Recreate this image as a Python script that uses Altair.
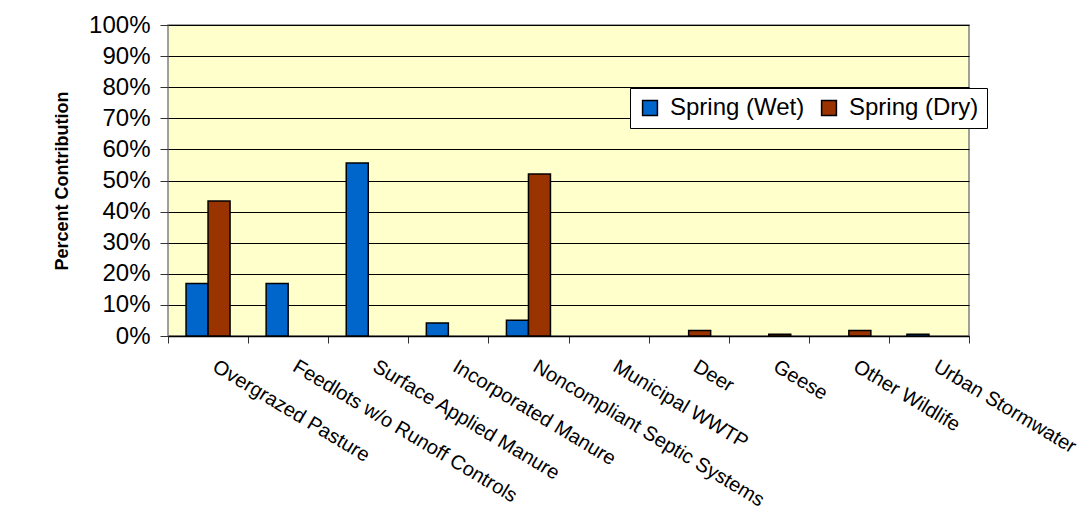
import altair as alt
import pandas as pd

categories = ["Overgrazed Pasture", "Feedlots w/o Runoff Controls", "Surface Applied Manure",
              "Incorporated Manure", "Noncompliant Septic Systems", "Municipal WWTP", "Deer",
              "Geese", "Other Wildlife", "Urban Stormwater"]
wet = [0.169, 0.169, 0.556, 0.042, 0.051, 0.0, 0.0, 0.0, 0.0, 0.006]
dry = [0.434, 0.0, 0.0, 0.0, 0.521, 0.0, 0.018, 0.006, 0.018, 0.0]
series = ["Spring (Wet)", "Spring (Dry)"]
colors = ["#0066CC", "#993300"]

rows = []
for c, w, d in zip(categories, wet, dry):
    rows.append({"Source": c, "Season": series[0], "Value": w})
    rows.append({"Source": c, "Season": series[1], "Value": d})
df = pd.DataFrame(rows)
df = df[df["Value"] > 0]

font = "Liberation Sans"

chart = alt.Chart(df).mark_bar(stroke="black", strokeWidth=1.5).encode(
    x=alt.X("Source:N", sort=categories,
            scale=alt.Scale(domain=categories, paddingInner=0, paddingOuter=0),
            axis=alt.Axis(title=None, labelAngle=31, labelAlign="left", labelBaseline="top",
                          labelFontSize=20, labelFont=font, labelColor="black",
                          labelPadding=13, labelOffset=11, tickBand="extent", tickSize=7,
                          tickColor="#333333", domainColor="black", domainWidth=1.5,
                          grid=False, labelOverlap=False, labelLimit=400)),
    xOffset=alt.XOffset("Season:N", sort=series,
                        scale=alt.Scale(domain=series, paddingInner=0, paddingOuter=0.82)),
    y=alt.Y("Value:Q", scale=alt.Scale(domain=[0, 1]),
            axis=alt.Axis(title="Percent Contribution", format=".0%", values=[i / 10 for i in range(11)],
                          labelFontSize=24, labelFont=font, labelColor="black", labelPadding=10,
                          tickSize=8, tickColor="#333333", domain=False,
                          gridColor="black", gridWidth=1,
                          titleFont=font, titleFontSize=18, titleFontWeight="bold",
                          titleColor="black", titlePadding=17)),
    color=alt.Color("Season:N", sort=series,
                    scale=alt.Scale(domain=series, range=colors),
                    legend=alt.Legend(title=None, orient="none", legendX=462, legendY=63,
                                      direction="horizontal", symbolType="square", symbolSize=220,
                                      symbolStrokeColor="black", symbolStrokeWidth=1.5,
                                      labelFont=font, labelFontSize=24, labelColor="black",
                                      fillColor="white", strokeColor="black", padding=8,
                                      columnPadding=12, labelOffset=8)),
).properties(
    width=801, height=311,
    padding={"left": 160, "top": 17, "right": 112, "bottom": 181},
    autosize=alt.AutoSizeParams(type="none"),
    background="white",
).configure_view(
    fill="#FFFFCC", stroke="#808080", strokeWidth=1.5
)

chart.save("out.html", embed_options={"renderer": "svg", "actions": False})
